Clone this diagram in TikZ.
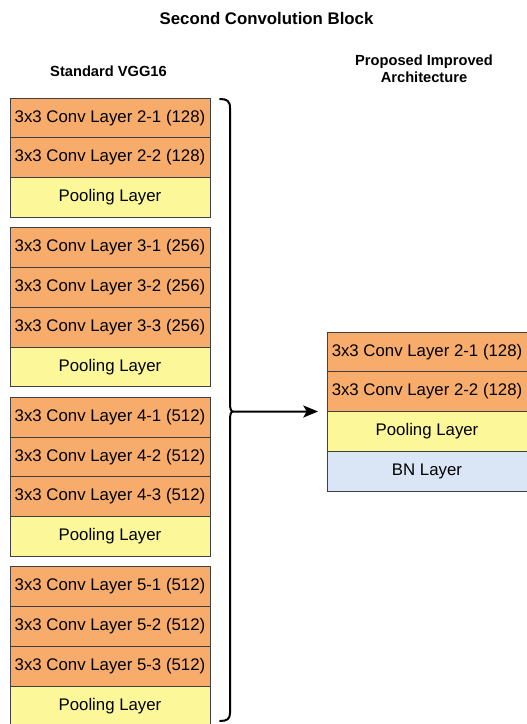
\documentclass[tikz,border=0pt]{standalone}
\usepackage{fontspec}
\setmainfont{Liberation Sans}
\usetikzlibrary{arrows.meta}
\definecolor{convfill}{HTML}{F8AC6C}
\definecolor{poolfill}{HTML}{FCF89A}
\definecolor{bnfill}{HTML}{DAE6F6}
\definecolor{edge}{HTML}{404040}
\tikzset{
  layerbox/.style={draw=edge, line width=0.75pt, minimum width=150pt, minimum height=29.81pt,
    inner sep=0pt, outer sep=0pt, anchor=north west, font=\fontsize{12.6}{14}\selectfont, text=black},
  convbox/.style={layerbox, fill=convfill},
  poolbox/.style={layerbox, fill=poolfill},
  bnbox/.style={layerbox, fill=bnfill},
  headtext/.style={font=\fontsize{11}{12.8}\selectfont\bfseries, align=center},
  titletext/.style={font=\fontsize{12.6}{14}\selectfont\bfseries}
}
\begin{document}
\begin{tikzpicture}[x=0.75pt,y=-0.75pt]
\useasboundingbox (0,0) rectangle (526,724);
\node[titletext] (title) at (266.5,18) {Second Convolution Block};
\node[headtext] (hleft) at (108.5,71) {Standard VGG16};
\node[headtext] (hright) at (424,68.5) {Proposed Improved\\Architecture};
% left column
\node[convbox] (a1) at (10,98) {3x3 Conv Layer 2-1 (128)};
\node[convbox] (a2) at (10,137.75) {3x3 Conv Layer 2-2 (128)};
\node[poolbox] (a3) at (10,177.5) {Pooling Layer};
\node[convbox] (b1) at (10,227.75) {3x3 Conv Layer 3-1 (256)};
\node[convbox] (b2) at (10,267.5) {3x3 Conv Layer 3-2 (256)};
\node[convbox] (b3) at (10,307.25) {3x3 Conv Layer 3-3 (256)};
\node[poolbox] (b4) at (10,347) {Pooling Layer};
\node[convbox] (c1) at (10,397.25) {3x3 Conv Layer 4-1 (512)};
\node[convbox] (c2) at (10,437) {3x3 Conv Layer 4-2 (512)};
\node[convbox] (c3) at (10,476.75) {3x3 Conv Layer 4-3 (512)};
\node[poolbox] (c4) at (10,516.5) {Pooling Layer};
\node[convbox] (d1) at (10,566.75) {3x3 Conv Layer 5-1 (512)};
\node[convbox] (d2) at (10,606.5) {3x3 Conv Layer 5-2 (512)};
\node[convbox] (d3) at (10,646.25) {3x3 Conv Layer 5-3 (512)};
\node[poolbox] (d4) at (10,686) {Pooling Layer};
% right column
\node[convbox] (r1) at (327,332) {3x3 Conv Layer 2-1 (128)};
\node[convbox] (r2) at (327,371.75) {3x3 Conv Layer 2-2 (128)};
\node[poolbox] (r3) at (327,411.5) {Pooling Layer};
\node[bnbox] (r4) at (327,451.25) {BN Layer};
% brace
\coordinate (bracetip) at (233,411.5);
\draw[line width=1.5pt, line cap=round, line join=round]
  (220,99) .. controls (227,99) and (230,101) .. (230,108)
  -- (230,403) .. controls (230,409) and (231,411.5) .. (bracetip)
  .. controls (231,411.5) and (230,414) .. (230,420)
  -- (230,713) .. controls (230,719) and (227,721) .. (220,721);
\draw[line width=1.5pt, -{Stealth[length=11pt,width=9pt,inset=2.5pt]}, shorten >=9pt*0.75]
  (bracetip) -- (r2.south west);
\end{tikzpicture}
\end{document}
